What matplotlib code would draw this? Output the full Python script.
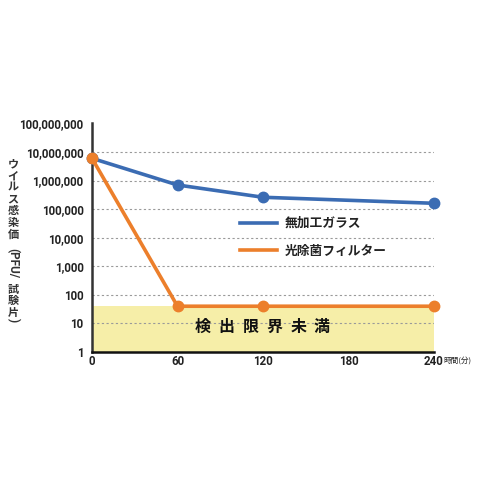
import matplotlib
matplotlib.use("Agg")
import matplotlib.pyplot as plt
from matplotlib.lines import Line2D
from matplotlib.ticker import FixedLocator, FuncFormatter

plt.rcParams['font.family'] = ['Noto Sans CJK JP', 'DejaVu Sans']

# ---- data ----
time_min = [0, 60, 120, 240]
untreated_glass = [6_000_000, 700_000, 260_000, 160_000]
photo_filter = [6_000_000, 40, 40, 40]
detection_limit = 42
series_names = ["無加工ガラス", "光除菌フィルター"]
x_ticks = [0, 60, 120, 180, 240]
y_ticks = [1, 10, 100, 1_000, 10_000, 100_000, 1_000_000, 10_000_000, 100_000_000]
band_label = "検出限界未満"
ylabel_upright = "ウイルス感染価"
ylabel_latin = "(PFU/"
ylabel_upright2 = "試験片"
ylabel_close = ")"
x_unit = "時間(分)"

BLUE = "#3b6cb3"
ORANGE = "#ec7f2b"
BAND = "#f6eea8"
W, H = 480, 480

fig = plt.figure(figsize=(4.8, 4.8), dpi=100)
ax = fig.add_axes([92 / W, 1 - 352 / H, (434 - 92) / W, (352 - 123.4) / H])

ax.set_yscale('log')
ax.set_xlim(0, 240)
ax.set_ylim(1, 100_000_000)

ax.axhspan(1, detection_limit, color=BAND, zorder=0, lw=0)
ax.hlines(y_ticks[1:-1], 0, 240, colors="#9a9a9a", linestyles=(0, (2, 2.2)), lw=0.8, zorder=1)

ax.plot(time_min, untreated_glass, color=BLUE, lw=2.6, marker='o', ms=7.5, zorder=3,
        solid_joinstyle='round', clip_on=False)
ax.plot(time_min, photo_filter, color=ORANGE, lw=2.6, marker='o', ms=7.5, zorder=4,
        solid_joinstyle='round', clip_on=False)

for s in ['top', 'right']:
    ax.spines[s].set_visible(False)
ax.spines['left'].set_linewidth(1.8)
ax.spines['left'].set_color('#333333')
ax.spines['bottom'].set_linewidth(1.8)
ax.spines['bottom'].set_color('#111111')

ax.yaxis.set_major_locator(FixedLocator(y_ticks))
ax.yaxis.set_minor_locator(FixedLocator([]))
ax.yaxis.set_major_formatter(FuncFormatter(lambda v, p: f"{int(round(v)):,}"))
ax.set_xticks(x_ticks)
ax.set_xticklabels([str(t) for t in x_ticks])
ax.tick_params(axis='both', length=0, labelsize=8.3, colors='#222222')
ax.tick_params(axis='y', pad=6)
ax.tick_params(axis='x', pad=2.5)
for lab in ax.get_yticklabels() + ax.get_xticklabels():
    lab.set_family(['Roboto', 'DejaVu Sans'])
    lab.set_fontweight('bold')

# x unit
fig.text(443 / W, 1 - 361 / H, x_unit, fontsize=5.5, ha='left', va='center', color='#222222')

# band label (letter-spaced)
for i, ch in enumerate(band_label):
    fig.text((203 + 23.8 * i) / W, 1 - 327 / H, ch, fontsize=11.5, ha='center', va='center',
             color='#111111', fontweight='bold')

# legend
handles = [Line2D([], [], color=BLUE, lw=2.6), Line2D([], [], color=ORANGE, lw=2.6)]
leg = ax.legend(handles, series_names, loc='upper left', bbox_to_anchor=(240 / W, 1 - 217 / H),
                bbox_transform=fig.transFigure, frameon=False, fontsize=9.2,
                handlelength=2.9, handletextpad=0.6, labelspacing=1.15, borderpad=0,
                borderaxespad=0)
for t in leg.get_texts():
    t.set_fontweight('bold')
    t.set_color('#222222')

# vertical y label
xc = 13 / W
for i, ch in enumerate(ylabel_upright):
    fig.text(xc, 1 - (164 + 11.7 * i) / H, ch, fontsize=8, ha='center', va='center',
             color='#333333', fontweight='bold')
fig.text(xc, 1 - 263 / H, ylabel_latin, fontsize=8.5, ha='center', va='center', rotation=270,
         color='#333333', fontweight='bold', family=['Roboto', 'DejaVu Sans'])
for i, ch in enumerate(ylabel_upright2):
    fig.text(xc, 1 - (289 + 11.7 * i) / H, ch, fontsize=8, ha='center', va='center',
             color='#333333', fontweight='bold')
fig.text(xc, 1 - 320 / H, ylabel_close, fontsize=8.5, ha='center', va='center', rotation=270,
         color='#333333', fontweight='bold', family=['Roboto', 'DejaVu Sans'])

fig.savefig("out.png", dpi=100)
